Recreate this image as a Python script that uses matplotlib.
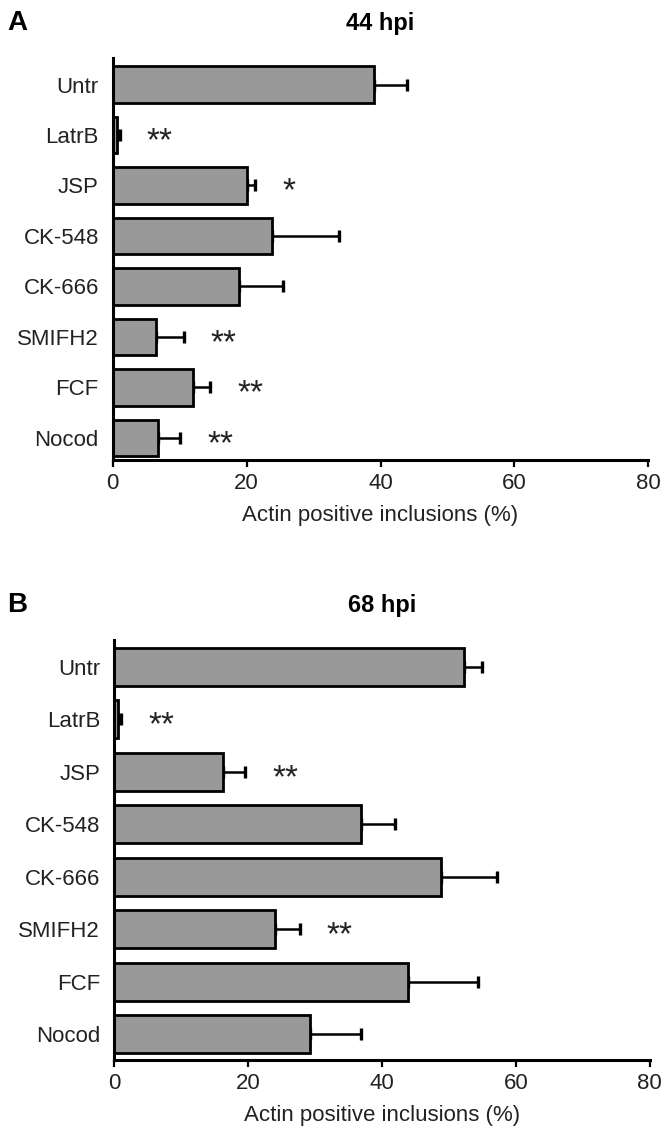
import numpy as np
import matplotlib
matplotlib.use('Agg')
import matplotlib.pyplot as plt

plt.rcParams['font.family'] = ['Liberation Sans', 'DejaVu Sans']

treatments = ['Untr', 'LatrB', 'JSP', 'CK-548', 'CK-666', 'SMIFH2', 'FCF', 'Nocod']

# 44 hpi
a_vals = [39.0, 0.6, 20.0, 23.8, 18.9, 6.4, 12.0, 6.7]
a_err = [5.0, 0.5, 1.3, 10.0, 6.5, 4.2, 2.6, 3.4]
a_sig = ['', '**', '*', '', '', '**', '**', '**']

# 68 hpi
b_vals = [52.2, 0.6, 16.3, 36.9, 48.9, 24.0, 43.9, 29.2]
b_err = [2.7, 0.5, 3.3, 5.0, 8.3, 3.8, 10.4, 7.7]
b_sig = ['', '**', '**', '', '', '**', '', '']

xticks = [0, 20, 40, 60, 80]
text_col = '#222222'

fig = plt.figure(figsize=(6.67, 11.27), dpi=100)
axA = fig.add_axes([0.169, 0.5918, 0.803, 0.3565])
axB = fig.add_axes([0.171, 0.0595, 0.803, 0.3726])


def draw(ax, vals, err, sig, title, ylim):
    y = np.arange(len(treatments))
    ax.barh(y, vals, height=0.72, color='#999999', edgecolor='black',
            linewidth=2.0, zorder=2)
    ax.errorbar(vals, y, xerr=[np.zeros(len(err)), err], fmt='none',
                ecolor='black', elinewidth=1.8, capsize=4.3, capthick=2.4,
                zorder=1)
    for yi, v, e, s in zip(y, vals, err, sig):
        if s:
            ax.annotate(s, (v + e + 4.0, yi), xytext=(0, -10.8),
                        textcoords='offset points', ha='left', va='baseline',
                        fontsize=24, color=text_col)
    ax.set_xlim(0, 80)
    ax.set_ylim(*ylim)
    ax.set_yticks(y)
    ax.set_yticklabels(treatments)
    ax.set_xticks(xticks)
    for side in ['top', 'right']:
        ax.spines[side].set_visible(False)
    for side in ['left', 'bottom']:
        ax.spines[side].set_linewidth(2.2)
    ax.tick_params(axis='x', direction='out', length=5, width=1.6,
                   labelsize=16, pad=4.5, labelcolor=text_col)
    ax.tick_params(axis='y', length=0, pad=10, labelsize=16,
                   labelcolor=text_col)
    ax.set_xlabel('Actin positive inclusions (%)', fontsize=16,
                  color=text_col, labelpad=8)
    ax.set_title(title, fontsize=17, fontweight='bold', pad=20)


draw(axA, a_vals, a_err, a_sig, '44 hpi', (7.44, -0.52))
draw(axB, b_vals, b_err, b_sig, '68 hpi', (7.49, -0.51))

fig.text(7 / 667, 1 - 30 / 1127, 'A', fontsize=20, fontweight='bold',
         ha='left', va='baseline')
fig.text(7 / 667, 1 - 612 / 1127, 'B', fontsize=20, fontweight='bold',
         ha='left', va='baseline')

fig.savefig('out.png', dpi=100)
